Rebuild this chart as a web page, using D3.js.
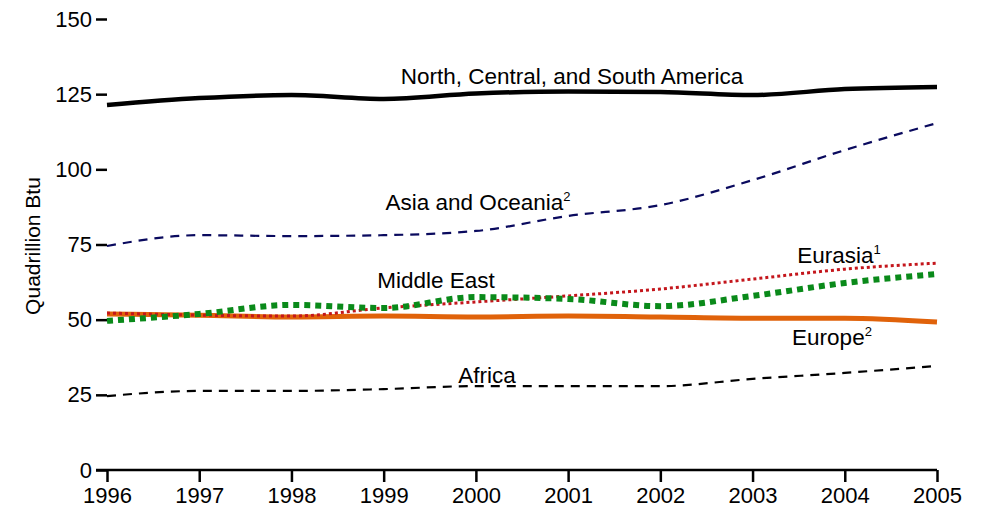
<!DOCTYPE html>
<html>
<head>
<meta charset="utf-8">
<script src="https://cdn.jsdelivr.net/npm/d3@7"></script>
<style>
  html, body { margin: 0; padding: 0; background: #fff; }
  svg { display: block; font-family: "Liberation Sans", Arial, sans-serif; }
</style>
</head>
<body>
<svg id="chart"></svg>
<script>
// Data (quadrillion Btu)
const years = [1996, 1997, 1998, 1999, 2000, 2001, 2002, 2003, 2004, 2005];
const yTicks = [0, 25, 50, 75, 100, 125, 150];

const northAmerica = [121.4, 123.7, 124.7, 123.4, 125.2, 125.9, 125.7, 124.7, 126.7, 127.4];
const asiaOceania  = [74.5, 78.1, 77.8, 78.1, 79.5, 84.5, 88.1, 96.4, 106.4, 115.4];
const eurasia      = [52.2, 51.5, 51.2, 53.9, 55.9, 57.9, 60.2, 63.5, 66.8, 68.8];
const middleEast   = [49.6, 51.9, 54.9, 53.9, 57.5, 56.9, 54.5, 57.9, 62.2, 65.2];
const europe       = [51.9, 51.5, 50.9, 51.2, 50.9, 51.2, 50.9, 50.5, 50.5, 49.2];
const africa       = [24.6, 26.3, 26.3, 26.9, 27.9, 27.9, 27.9, 30.3, 32.3, 34.6];

const width = 984, height = 513;
const svg = d3.select("#chart").attr("width", width).attr("height", height);

const x = d3.scaleLinear().domain([1996, 2005]).range([107, 937]);
const y = d3.scaleLinear().domain([0, 150]).range([470, 19]);

// Y axis: ticks only, no spine
svg.append("g")
  .attr("transform", `translate(${x.range()[0]},0)`)
  .call(d3.axisLeft(y).tickValues(yTicks).tickSize(11).tickPadding(4))
  .call(ax => ax.select(".domain").remove())
  .call(ax => ax.selectAll("line").attr("stroke", "#000").attr("stroke-width", 2.5))
  .call(ax => ax.selectAll("text").style("font-size", "22px").attr("fill", "#000"));

// X axis
const xAxis = svg.append("g")
  .attr("transform", `translate(0,${y(0)})`)
  .call(d3.axisBottom(x).tickValues(years).tickFormat(d3.format("d"))
    .tickSizeInner(12).tickSizeOuter(0).tickPadding(5))
  .call(ax => ax.select(".domain").remove())
  .call(ax => ax.selectAll("line").attr("stroke", "#000").attr("stroke-width", 2.5))
  .call(ax => ax.selectAll("text").style("font-size", "22px").attr("fill", "#000"));

xAxis.append("line")
  .attr("x1", x.range()[0] - 11).attr("x2", x.range()[1])
  .attr("y1", 0).attr("y2", 0)
  .attr("stroke", "#000").attr("stroke-width", 2.5);

// Y title
svg.append("text")
  .attr("transform", "rotate(-90)")
  .attr("x", -246).attr("y", 40)
  .attr("text-anchor", "middle")
  .style("font-size", "21px")
  .text("Quadrillion Btu");

const series = [
  { name: "africa", values: africa, color: "#000", width: 2.2, dash: "9,7" },
  { name: "asia", values: asiaOceania, color: "#0a0a5e", width: 2.2, dash: "9,7" },
  { name: "europe", values: europe, color: "#e0620a", width: 5 },
  { name: "eurasia", values: eurasia, color: "#c4161c", width: 3, dash: "3,3" },
  { name: "mideast", values: middleEast, color: "#0a8a1a", width: 6, dash: "6,5" },
  { name: "na", values: northAmerica, color: "#000", width: 4.5 }
];

const line = d3.line()
  .x((d, i) => x(years[i]))
  .y(d => y(d))
  .curve(d3.curveMonotoneX);

svg.append("g").selectAll("path")
  .data(series)
  .join("path")
  .attr("d", d => line(d.values))
  .attr("fill", "none")
  .attr("stroke", d => d.color)
  .attr("stroke-width", d => d.width)
  .attr("stroke-dasharray", d => d.dash || null);

// Inline labels
const labels = [
  { text: "North, Central, and South America", sup: "", x: 572, y: 84 },
  { text: "Asia and Oceania", sup: "2", x: 478, y: 210 },
  { text: "Eurasia", sup: "1", x: 839, y: 263 },
  { text: "Middle East", sup: "", x: 436, y: 288 },
  { text: "Europe", sup: "2", x: 832, y: 345 },
  { text: "Africa", sup: "", x: 487, y: 383 }
];

labels.forEach(l => {
  const t = svg.append("text")
    .attr("x", l.x).attr("y", l.y)
    .attr("text-anchor", "middle")
    .style("font-size", "22.5px")
    .text(l.text);
  if (l.sup) {
    t.append("tspan")
      .attr("dy", -9)
      .style("font-size", "13px")
      .text(l.sup);
  }
});
</script>
</body>
</html>
